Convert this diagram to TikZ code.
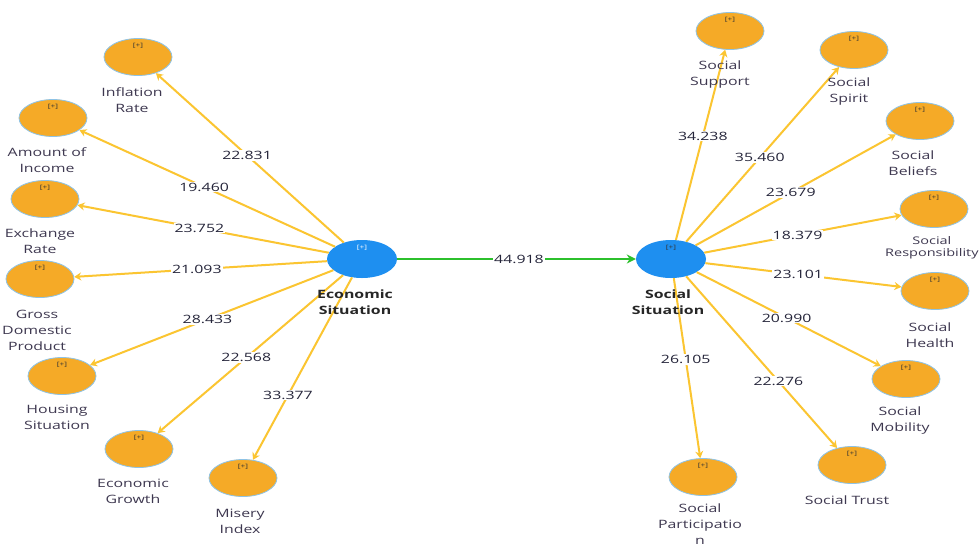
\documentclass[tikz,border=0pt]{standalone}
\usepackage{fontspec}
\setmainfont{Open Sans}[FakeStretch=1.38]
\usetikzlibrary{shapes.geometric,arrows.meta,calc}
\definecolor{indfill}{HTML}{F5AA27}
\definecolor{indborder}{HTML}{8EC3E6}
\definecolor{lvfill}{HTML}{1E8FF0}
\definecolor{edgecol}{HTML}{FBC531}
\definecolor{greencol}{HTML}{2CC02C}
\definecolor{namecol}{HTML}{3E3850}
\definecolor{numcol}{HTML}{25253A}
\begin{document}
\begin{tikzpicture}[x=1pt,y=-1pt,
  ind/.style={ellipse, fill=indfill, draw=indborder, line width=0.8pt,
    minimum width=68pt, minimum height=37pt, inner sep=0pt,
    label={[icon]center:{[+]}}},
  lv/.style={ellipse, fill=lvfill, minimum width=70pt, minimum height=38pt, inner sep=0pt},
  icon/.style={font=\fontsize{6}{6}\selectfont, text=black!80, yshift=11pt, inner sep=0pt},
  edge/.style={draw=edgecol, line width=2pt, -{Stealth[length=7pt,width=8pt]}},
  gedge/.style={draw=greencol, line width=2pt, -{Stealth[length=9pt,width=9pt]}},
  lbl/.style={fill=white, inner sep=1pt, font=\fontsize{11.5}{13}\selectfont, text=numcol},
  nm/.style={align=center, font=\fontsize{11.5}{16}\selectfont, text=namecol, inner sep=0pt},
  lvnm/.style={align=center, font=\fontsize{11.5}{16}\selectfont\bfseries, text=black!85, inner sep=0pt}]
\useasboundingbox (0,0) rectangle (979,547);
\fill[white] (0,0) rectangle (979,547);

% latent variables
\node[lv, label={[icon,text=white]center:{[+]}}] (eco) at (362,259) {};
\node[lv, label={[icon]center:{[+]}}] (soc) at (671,259) {};

% indicators (left)
\node[ind] (inf) at (138,57) {};
\node[ind] (inc) at (53,118) {};
\node[ind] (exr) at (45,199) {};
\node[ind] (gdp) at (40,279) {};
\node[ind] (hou) at (62,376) {};
\node[ind] (gro) at (139,449) {};
\node[ind] (mis) at (243,478) {};

% indicators (right)
\node[ind] (sup) at (730,31) {};
\node[ind] (spi) at (854,50) {};
\node[ind] (bel) at (920,121) {};
\node[ind] (res) at (934,209) {};
\node[ind] (hea) at (935,291) {};
\node[ind] (mob) at (906,379) {};
\node[ind] (tru) at (852,465) {};
\node[ind] (par) at (703,477) {};

% edges with values
\foreach \t/\p/\v in {inf/0.513/22.831, inc/0.511/19.460, exr/0.513/23.752,
    gdp/0.513/21.093, hou/0.515/28.433, gro/0.519/22.568, mis/0.622/33.377} {
  \draw[edge] (eco) -- (\t);
  \node[lbl] (l-\t) at ($(eco)!\p!(\t)$) {\v};
}
\foreach \t/\p/\v in {sup/0.539/34.238, spi/0.485/35.460, bel/0.481/23.679,
    res/0.481/18.379, hea/0.482/23.101, mob/0.492/20.990, tru/0.593/22.276,
    par/0.46/26.105} {
  \draw[edge] (soc) -- (\t);
  \node[lbl] (l-\t) at ($(soc)!\p!(\t)$) {\v};
}
\draw[gedge] (eco) -- (soc);
\node[lbl] (l-path) at ($(eco)!0.508!(soc)$) {44.918};

% names
\node[lvnm] (n-eco) at (355,302) {Economic\\Situation};
\node[lvnm] (n-soc) at (668,302) {Social\\Situation};
\node[nm] (n-inf) at (132,100) {Inflation\\Rate};
\node[nm] (n-inc) at (47,160) {Amount of\\Income};
\node[nm] (n-exr) at (40,241) {Exchange\\Rate};
\node[nm] (n-gdp) at (37,330) {Gross\\Domestic\\Product};
\node[nm] (n-hou) at (57,417) {Housing\\Situation};
\node[nm] (n-gro) at (133,491) {Economic\\Growth};
\node[nm] (n-mis) at (240,521) {Misery\\Index};
\node[nm] (n-sup) at (720,75) {Social\\Support};
\node[nm] (n-spi) at (849,92) {Social\\Spirit};
\node[nm] (n-bel) at (913,163) {Social\\Beliefs};
\node[nm, font=\fontsize{10.5}{11.5}\selectfont, anchor=west] (n-res) at (885,248) {Social\\Responsibility};
\node[nm] (n-hea) at (930,335) {Social\\Health};
\node[nm] (n-mob) at (900,421) {Social\\Mobility};
\node[nm] (n-tru) at (847,500) {Social Trust};
\node[nm] (n-par) at (700,524) {Social\\Participatio\\n};
\end{tikzpicture}
\end{document}
